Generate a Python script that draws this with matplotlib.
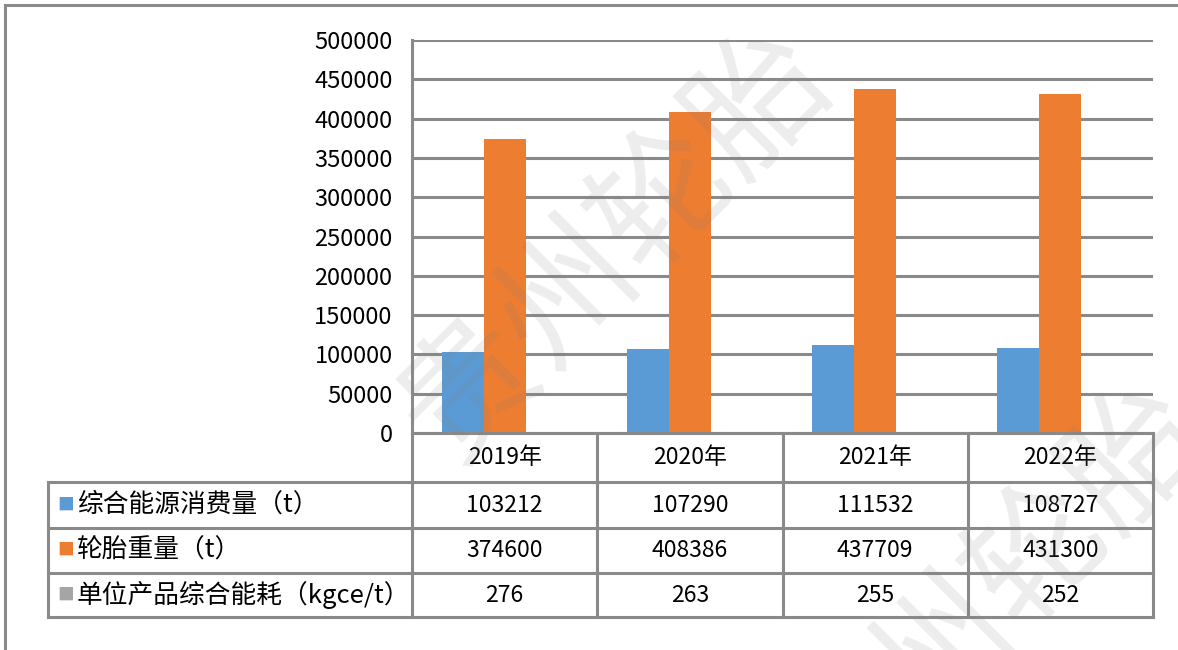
import matplotlib
matplotlib.use("Agg")
import matplotlib.pyplot as plt
from matplotlib.lines import Line2D
import numpy as np

plt.rcParams['font.family'] = ['Noto Sans CJK SC', 'DejaVu Sans']

# data
years = ["2019年", "2020年", "2021年", "2022年"]
series_names = ["综合能源消费量（t）", "轮胎重量（t）", "单位产品综合能耗（kgce/t）"]
energy = [103212, 107290, 111532, 108727]
tyre_weight = [374600, 408386, 437709, 431300]
unit_energy = [276, 263, 255, 252]
yticks = [0, 50000, 100000, 150000, 200000, 250000, 300000, 350000, 400000, 450000, 500000]

series = [energy, tyre_weight, unit_energy]
colors = ["#5B9BD5", "#ED7D31", "#A5A5A5"]
line_col = "#8a8a8a"

W, H = 1178, 650
fig = plt.figure(figsize=(W / 100, H / 100), dpi=100)

# plot area (pixels of the reference)
left, right, top, base = 412, 1153, 40, 433
ax = fig.add_axes([left / W, (H - base) / H, (right - left) / W, (base - top) / H])

x = np.arange(len(years))
bw = 0.227
for i, (vals, c) in enumerate(zip(series, colors)):
    ax.bar(x + (i - 1) * bw, vals, width=bw, color=c, zorder=3)

ax.set_xlim(-0.5, len(years) - 0.5)
ax.set_ylim(0, 500000)
ax.set_yticks(yticks)
ax.set_yticklabels([str(v) for v in yticks], fontsize=17)
ax.tick_params(axis='y', length=0, pad=14)
ax.set_xticks([])
ax.grid(axis='y', color=line_col, linewidth=2.2, zorder=0)
for s in ['top', 'right', 'bottom']:
    ax.spines[s].set_visible(False)
ax.spines['left'].set_color(line_col)
ax.spines['left'].set_linewidth(2.2)

# data table under the plot
tr = ax.get_xaxis_transform()
plot_h = base - top
row_px = [433, 482, 528, 573, 617]
rows = [(base - r) / plot_h for r in row_px]
cat_px = (right - left) / len(years)
x_lab = -0.5 - (left - 48) / cat_px
x_edges = np.arange(len(years) + 1) - 0.5

lk = dict(color=line_col, linewidth=2.2, transform=tr, clip_on=False, zorder=4)
ax.plot([-0.5, x_edges[-1]], [rows[0], rows[0]], **lk)
for r in rows[1:]:
    ax.plot([x_lab, x_edges[-1]], [r, r], **lk)
ax.plot([x_lab, x_lab], [rows[1], rows[-1]], **lk)
for xe in x_edges:
    ax.plot([xe, xe], [rows[0], rows[-1]], **lk)

# header row: years
for xi, yr in zip(x, years):
    ax.text(xi, (rows[0] + rows[1]) / 2, yr, transform=tr, ha='center', va='center',
            fontsize=16.5, clip_on=False)

# value rows
for k, (vals, name, c) in enumerate(zip(series, series_names, colors)):
    yc = (rows[k + 1] + rows[k + 2]) / 2
    for xi, v in zip(x, vals):
        ax.text(xi, yc, str(v), transform=tr, ha='center', va='center',
                fontsize=16.5, clip_on=False)
    ax.text(x_lab + 0.05, yc, "■", transform=tr, ha='left', va='center',
            fontsize=12, color=c, clip_on=False)
    ax.text(x_lab + 0.155, yc, name, transform=tr, ha='left', va='center',
            fontsize=18.5, clip_on=False)

# outer border (top and left visible)
fig.add_artist(Line2D([5 / W, 1], [1 - 5 / H, 1 - 5 / H], color=line_col, linewidth=2.2))
fig.add_artist(Line2D([5 / W, 5 / W], [0, 1 - 5 / H], color=line_col, linewidth=2.2))

# watermark
wm = "贵州轮胎"
for cx, cy in [(615, 245), (990, 600)]:
    fig.text(cx / W, 1 - cy / H, wm, fontsize=98, color="#808080",
             alpha=0.14, rotation=45, ha='center', va='center', rotation_mode='anchor',
             zorder=10)

fig.savefig("out.png", dpi=100)
